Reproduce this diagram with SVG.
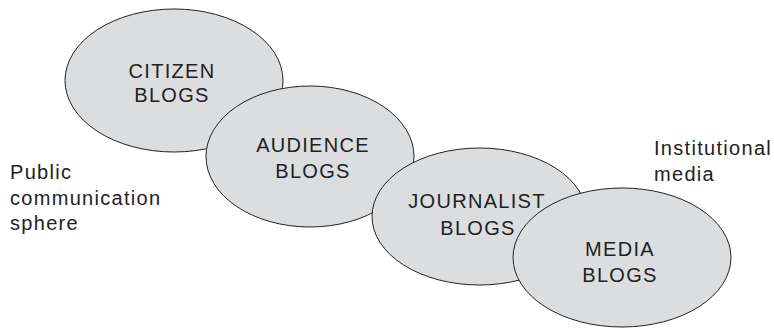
<svg xmlns="http://www.w3.org/2000/svg" width="774" height="328" viewBox="0 0 774 328">
<style>
.e{fill:#dcdddf;stroke:#222;stroke-width:1}
text{font-family:"Liberation Sans",Arial,sans-serif;font-size:20px;fill:#222;letter-spacing:1.3px}
.c{text-anchor:middle}
</style>
<rect width="774" height="328" fill="#fff"/>
<g id="citizen"><ellipse class="e" cx="174" cy="80.5" rx="109" ry="71.5"/><text class="c" x="172" y="78">CITIZEN</text><text class="c" x="172" y="102">BLOGS</text></g>
<g id="audience"><ellipse class="e" cx="310" cy="156.5" rx="104" ry="70.5"/><text class="c" x="313" y="152">AUDIENCE</text><text class="c" x="313" y="178">BLOGS</text></g>
<g id="journalist"><ellipse class="e" cx="479.5" cy="216.5" rx="107.5" ry="68.5"/><text class="c" x="477" y="208">JOURNALIST</text><text class="c" x="478" y="235">BLOGS</text></g>
<g id="media"><ellipse class="e" cx="622" cy="257.5" rx="109" ry="69.5"/><text class="c" x="620" y="256">MEDIA</text><text class="c" x="620" y="282">BLOGS</text></g>
<g id="public"><text x="10" y="179">Public</text><text x="10" y="205">communication</text><text x="10" y="230">sphere</text></g>
<g id="institutional"><text x="654" y="155">Institutional</text><text x="654" y="181">media</text></g>
<g id="connectors"></g>
</svg>
